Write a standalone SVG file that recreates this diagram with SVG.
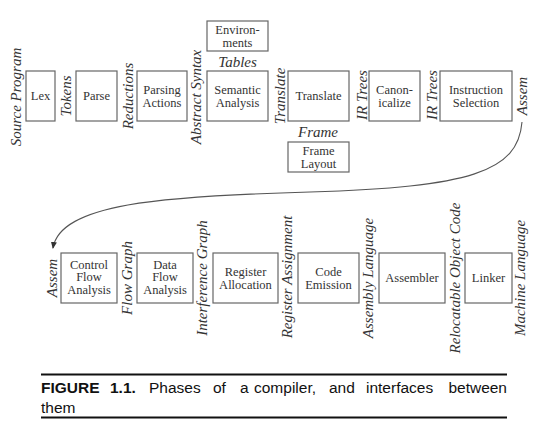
<svg xmlns="http://www.w3.org/2000/svg" width="546" height="428" viewBox="0 0 546 428">
<style>
.box{fill:#fff;stroke:#666;stroke-width:1.2}
.t{font-size:12.5px;fill:#333;text-anchor:middle}
.l{font-size:15px;font-style:italic;fill:#333;text-anchor:middle}
.cap{font-size:15.5px;fill:#111}
.conn{fill:none;stroke:#555;stroke-width:1.1}
</style>
<defs>
<marker id="ah" markerWidth="8" markerHeight="8" refX="6" refY="4" orient="auto" markerUnits="userSpaceOnUse">
<path d="M0,1 L7,4 L0,7 Z" fill="#333"/>
</marker>
</defs>
<rect width="546" height="428" fill="#fff"/>

<g id="connectors">
<path class="conn" d="M522,122 C518,172 470,187 310,192 C160,196 60,204 53,248" marker-end="url(#ah)"/>
</g>

<g font-family="Liberation Serif, Times New Roman, serif">
<g id="lex"><rect class="box" x="26" y="71" width="29" height="50"/><text class="t" x="40.5" y="100">Lex</text></g>
<g id="parse"><rect class="box" x="76" y="71" width="41" height="50"/><text class="t" x="96.5" y="100">Parse</text></g>
<g id="parsing-actions"><rect class="box" x="137" y="71" width="50" height="50"/><text class="t" x="162" y="94">Parsing</text><text class="t" x="162" y="106.5">Actions</text></g>
<g id="semantic-analysis"><rect class="box" x="207" y="71" width="61" height="50"/><text class="t" x="237.5" y="94">Semantic</text><text class="t" x="237.5" y="106.5">Analysis</text></g>
<g id="environments"><rect class="box" x="207" y="21" width="61" height="30"/><text class="t" x="237.5" y="34">Environ-</text><text class="t" x="237.5" y="46.5">ments</text></g>
<g id="translate"><rect class="box" x="288" y="71" width="61" height="50"/><text class="t" x="318.5" y="100">Translate</text></g>
<g id="frame-layout"><rect class="box" x="288" y="142" width="61" height="30"/><text class="t" x="318.5" y="155">Frame</text><text class="t" x="318.5" y="167.5">Layout</text></g>
<g id="canonicalize"><rect class="box" x="369" y="71" width="51" height="50"/><text class="t" x="394.5" y="94">Canon-</text><text class="t" x="394.5" y="106.5">icalize</text></g>
<g id="instruction-selection"><rect class="box" x="440" y="71" width="72" height="50"/><text class="t" x="476" y="94">Instruction</text><text class="t" x="476" y="106.5">Selection</text></g>

<g id="control-flow-analysis"><rect class="box" x="61" y="253" width="56" height="50"/><text class="t" x="89" y="268.5">Control</text><text class="t" x="89" y="281">Flow</text><text class="t" x="89" y="293.5">Analysis</text></g>
<g id="data-flow-analysis"><rect class="box" x="137" y="253" width="56" height="50"/><text class="t" x="165" y="268.5">Data</text><text class="t" x="165" y="281">Flow</text><text class="t" x="165" y="293.5">Analysis</text></g>
<g id="register-allocation"><rect class="box" x="213" y="253" width="65" height="50"/><text class="t" x="245.5" y="276">Register</text><text class="t" x="245.5" y="288.5">Allocation</text></g>
<g id="code-emission"><rect class="box" x="298" y="253" width="61" height="50"/><text class="t" x="328.5" y="276">Code</text><text class="t" x="328.5" y="288.5">Emission</text></g>
<g id="assembler"><rect class="box" x="379" y="253" width="66" height="50"/><text class="t" x="412" y="282">Assembler</text></g>
<g id="linker"><rect class="box" x="465" y="253" width="47" height="50"/><text class="t" x="488.5" y="282">Linker</text></g>

<g id="labels">
<text class="l" transform="translate(21,97) rotate(-90)">Source Program</text>
<text class="l" transform="translate(71,96) rotate(-90)">Tokens</text>
<text class="l" transform="translate(133,96) rotate(-90)">Reductions</text>
<text class="l" transform="translate(201,97) rotate(-90)">Abstract Syntax</text>
<text class="l" transform="translate(285,96) rotate(-90)">Translate</text>
<text class="l" transform="translate(367,95) rotate(-90)">IR Trees</text>
<text class="l" transform="translate(437,95) rotate(-90)">IR Trees</text>
<text class="l" transform="translate(527,96) rotate(-90)">Assem</text>
<text class="l" x="237.5" y="67">Tables</text>
<text class="l" x="318" y="137">Frame</text>
<text class="l" transform="translate(57,278) rotate(-90)">Assem</text>
<text class="l" transform="translate(132,278) rotate(-90)">Flow Graph</text>
<text class="l" transform="translate(207,278) rotate(-90)">Interference Graph</text>
<text class="l" transform="translate(292,277) rotate(-90)">Register Assignment</text>
<text class="l" transform="translate(373,278) rotate(-90)">Assembly Language</text>
<text class="l" transform="translate(460,278) rotate(-90)">Relocatable Object Code</text>
<text class="l" transform="translate(525,278) rotate(-90)">Machine Language</text>
</g>
</g>

<g id="caption" font-family="Liberation Sans, Arial, sans-serif">
<line x1="41" y1="374.5" x2="507" y2="374.5" stroke="#111" stroke-width="2"/>
<line x1="41" y1="417.5" x2="507" y2="417.5" stroke="#111" stroke-width="2"/>
<text class="cap" x="41" y="393" font-weight="bold">FIGURE</text>
<text class="cap" x="110" y="393" font-weight="bold">1.1.</text>
<text class="cap" x="149" y="393">Phases</text>
<text class="cap" x="213" y="393">of</text>
<text class="cap" x="240" y="393">a</text>
<text class="cap" x="254" y="393">compiler,</text>
<text class="cap" x="329" y="393">and</text>
<text class="cap" x="366" y="393">interfaces</text>
<text class="cap" x="507" y="393" text-anchor="end">between</text>
<text class="cap" x="41" y="413">them</text>
</g>
</svg>
